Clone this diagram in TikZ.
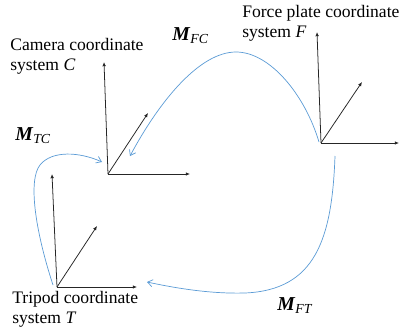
\documentclass[tikz,border=0pt]{standalone}
\usepackage{fontspec}
\setmainfont{Liberation Serif}
\usepackage{xcolor}
\usetikzlibrary{arrows.meta,positioning,calc}
\definecolor{linkblue}{HTML}{5B9BD5}
\definecolor{axisgray}{HTML}{262626}

\begin{document}
\begin{tikzpicture}[x=0.025cm, y=-0.025cm,
    axis/.style={draw=axisgray, line width=0.55pt, -{Latex[length=3pt,width=2.6pt]}},
    link/.style={draw=linkblue, line width=0.5pt, -{Straight Barb[length=3.5pt,width=5pt]}},
    caption/.style={align=left, inner sep=0pt, font=\fontsize{12.5}{14.2}\selectfont},
    mlabel/.style={inner sep=0pt, font=\fontsize{14}{16}\selectfont}
]
    \useasboundingbox (0,0) rectangle (400,335);

    % Camera coordinate system C
    \coordinate (c0) at (108,174);
    \coordinate (cx) at (190,174);
    \coordinate (cy) at (104,62);
    \coordinate (cz) at (148,113);
    \draw[axis] (c0) -- (cx);
    \draw[axis] (c0) -- (cy);
    \draw[axis] (c0) -- (cz);
    \node[caption, anchor=north west] (cam) at (10,38) {Camera coordinate\\system \textit{C}};

    % Force plate coordinate system F
    \coordinate (f0) at (321,143);
    \coordinate (fx) at (399,143);
    \coordinate (fy) at (317,32);
    \coordinate (fz) at (362,82);
    \draw[axis] (f0) -- (fx);
    \draw[axis] (f0) -- (fy);
    \draw[axis] (f0) -- (fz);
    \node[caption, anchor=north west] (force) at (242,5) {Force plate coordinate\\system \textit{F}};

    % Tripod coordinate system T
    \coordinate (t0) at (57,287);
    \coordinate (tx) at (137,287);
    \coordinate (ty) at (52,174);
    \coordinate (tz) at (97,226);
    \draw[axis] (t0) -- (tx);
    \draw[axis] (t0) -- (ty);
    \draw[axis] (t0) -- (tz);
    \node[caption, anchor=north west] (tri) at (12,291) {Tripod coordinate\\system \textit{T}};

    % Transformations
    \coordinate (fcs) at (319,142);
    \coordinate (fce) at (130,156);
    \draw[link] (fcs) .. controls (305,95) and (270,52) .. (236,52)
        .. controls (200,52) and (160,100) .. (fce);
    \coordinate (tcs) at (53,285);
    \coordinate (tce) at (102,162);
    \draw[link] (tcs) .. controls (35,230) and (28,180) .. (40,165)
        .. controls (52,150) and (80,152) .. (tce);
    \coordinate (fts) at (335,156);
    \coordinate (fte) at (147,282);
    \draw[link] (fts) .. controls (332,240) and (315,290) .. (245,293)
        .. controls (210,294) and (175,288) .. (fte);

    \node[mlabel, anchor=base west] (mfc) at (172,40) {\textbf{\textit{M}}\textsubscript{\textit{FC}}};
    \node[mlabel, anchor=base west] (mtc) at (15,140) {\textbf{\textit{M}}\textsubscript{\textit{TC}}};
    \node[mlabel, anchor=base west] (mft) at (277,310) {\textbf{\textit{M}}\textsubscript{\textit{FT}}};
\end{tikzpicture}
\end{document}
